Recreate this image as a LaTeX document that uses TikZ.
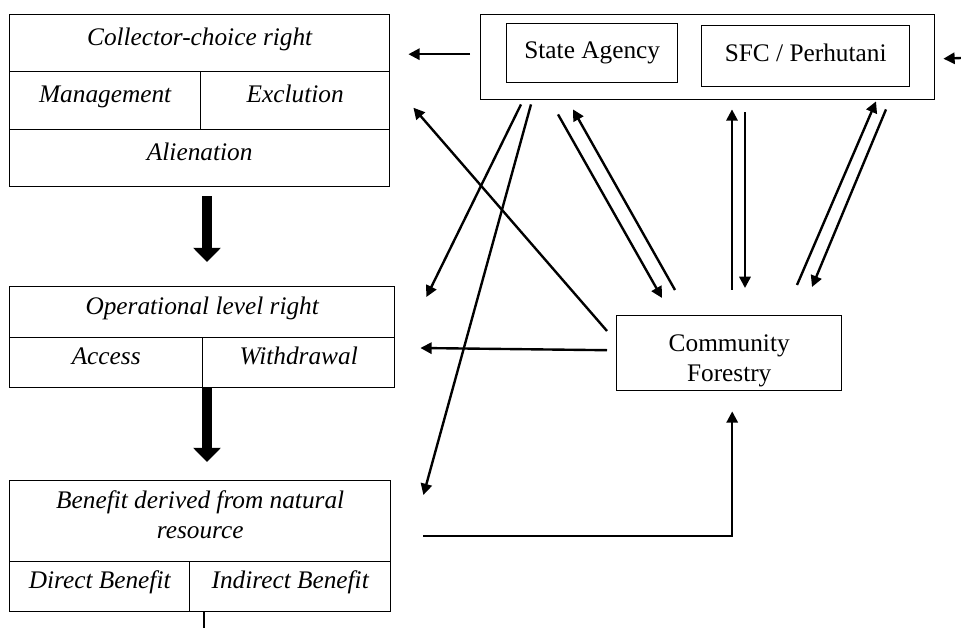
\documentclass[tikz,border=0pt]{standalone}
\usepackage{fontspec}
\setmainfont{Liberation Serif}
\usetikzlibrary{arrows.meta}

\begin{document}
\begin{tikzpicture}[x=0.025cm, y=-0.025cm,
cell/.style={draw, line width=1pt, anchor=north west, inner sep=0pt, align=center, font=\fontsize{18}{21.5}\selectfont\itshape},
row/.style={cell, text height=9.5pt, text depth=6.5pt},
box/.style={draw, line width=1pt, anchor=north west, inner sep=0pt, align=center, font=\fontsize{18}{21.5}\selectfont},
actor/.style={box, text height=12.5pt, text depth=4.5pt},
link/.style={line width=1.7pt, -{Triangle[length=8pt,width=8pt]}},
bigarrow/.style={line width=7.5pt, -{Triangle[length=10pt,width=19pt]}}
]
\useasboundingbox (0,0) rectangle (961,628);

% rights, left column
\node[row, minimum width=380*0.025cm, minimum height=57*0.025cm] (cct) at (9,14) {Collector-choice right};
\node[row, minimum width=191*0.025cm, minimum height=58*0.025cm] (mgmt) at (9,71) {Management};
\node[row, minimum width=189*0.025cm, minimum height=58*0.025cm] (excl) at (200,71) {Exclution};
\node[row, minimum width=380*0.025cm, minimum height=57*0.025cm] (alien) at (9,129) {Alienation};

\node[row, minimum width=385*0.025cm, minimum height=51*0.025cm] (opr) at (9,286) {Operational level right};
\node[row, minimum width=193*0.025cm, minimum height=50*0.025cm] (access) at (9,337) {Access};
\node[row, minimum width=192*0.025cm, minimum height=50*0.025cm] (withd) at (202,337) {Withdrawal};

\node[cell, minimum width=381*0.025cm, minimum height=81*0.025cm] (ben) at (9,480) {Benefit derived from natural\\resource\rule[-9pt]{0pt}{9pt}};
\node[row, minimum width=180*0.025cm, minimum height=50*0.025cm] (direct) at (9,561) {Direct Benefit};
\node[row, minimum width=201*0.025cm, minimum height=50*0.025cm] (indirect) at (189,561) {Indirect Benefit};

% actors, right side
\node[box, minimum width=454*0.025cm, minimum height=85*0.025cm] (agencies) at (480,14) {};
\node[actor, minimum width=171*0.025cm, minimum height=59*0.025cm] (state) at (506,23) {State Agency};
\node[actor, minimum width=208*0.025cm, minimum height=61*0.025cm] (sfc) at (701,25) {SFC / Perhutani};
\node[box, minimum width=225*0.025cm, minimum height=75*0.025cm] (cf) at (616,315) {\rule{0pt}{22.5pt}Community\\Forestry};

\coordinate (outside) at (961,58);
\coordinate (spine) at (207,0);
\coordinate (cut) at (204,630);

% downward flow
\draw[bigarrow, shorten <=9*0.025cm, shorten >=24*0.025cm] (spine |- alien.south) -- (spine |- opr.north);
\draw[bigarrow, shorten >=18*0.025cm] (spine |- withd.south) -- (spine |- ben.north);
\draw[line width=1.7pt] (cut |- indirect.south) -- (cut);

% links between actors and rights
\draw[link] ([shift={(-10,-3)}]agencies.west) -- ([shift={(18,11)}]cct.east);
\draw[link] (outside) -- ([shift={(8,1.5)}]agencies.east);
\draw[link] ([shift={(41,4)}]agencies.south west) -- ([shift={(31,11)}]opr.north east);
\draw[link] ([shift={(51,4)}]agencies.south west) -- ([shift={(32,15)}]ben.north east);
\draw[link] ([shift={(-9,16)}]cf.north west) -- ([shift={(23,7)}]excl.east);
\draw[link] ([shift={(-9,-3)}]cf.west) -- ([shift={(25,11)}]withd.north east);
\draw[link] ([shift={(32,15)}]ben.east) -| ([shift={(3,20)}]cf.south);

% links between agencies and community forestry
\draw[link] ([shift={(78,14)}]agencies.south west) -- ([shift={(46,-17)}]cf.north west);
\draw[link] ([shift={(59,-25)}]cf.north west) -- ([shift={(93,9)}]agencies.south west);
\draw[link] ([shift={(116,-25)}]cf.north west) -- ([shift={(252,9)}]agencies.south west);
\draw[link] ([shift={(265,12)}]agencies.south west) -- ([shift={(129,-27)}]cf.north west);
\draw[link] ([shift={(181,-30)}]cf.north west) -- ([shift={(396,1)}]agencies.south west);
\draw[link] ([shift={(406,9)}]agencies.south west) -- ([shift={(196,-28)}]cf.north west);
\end{tikzpicture}
\end{document}
